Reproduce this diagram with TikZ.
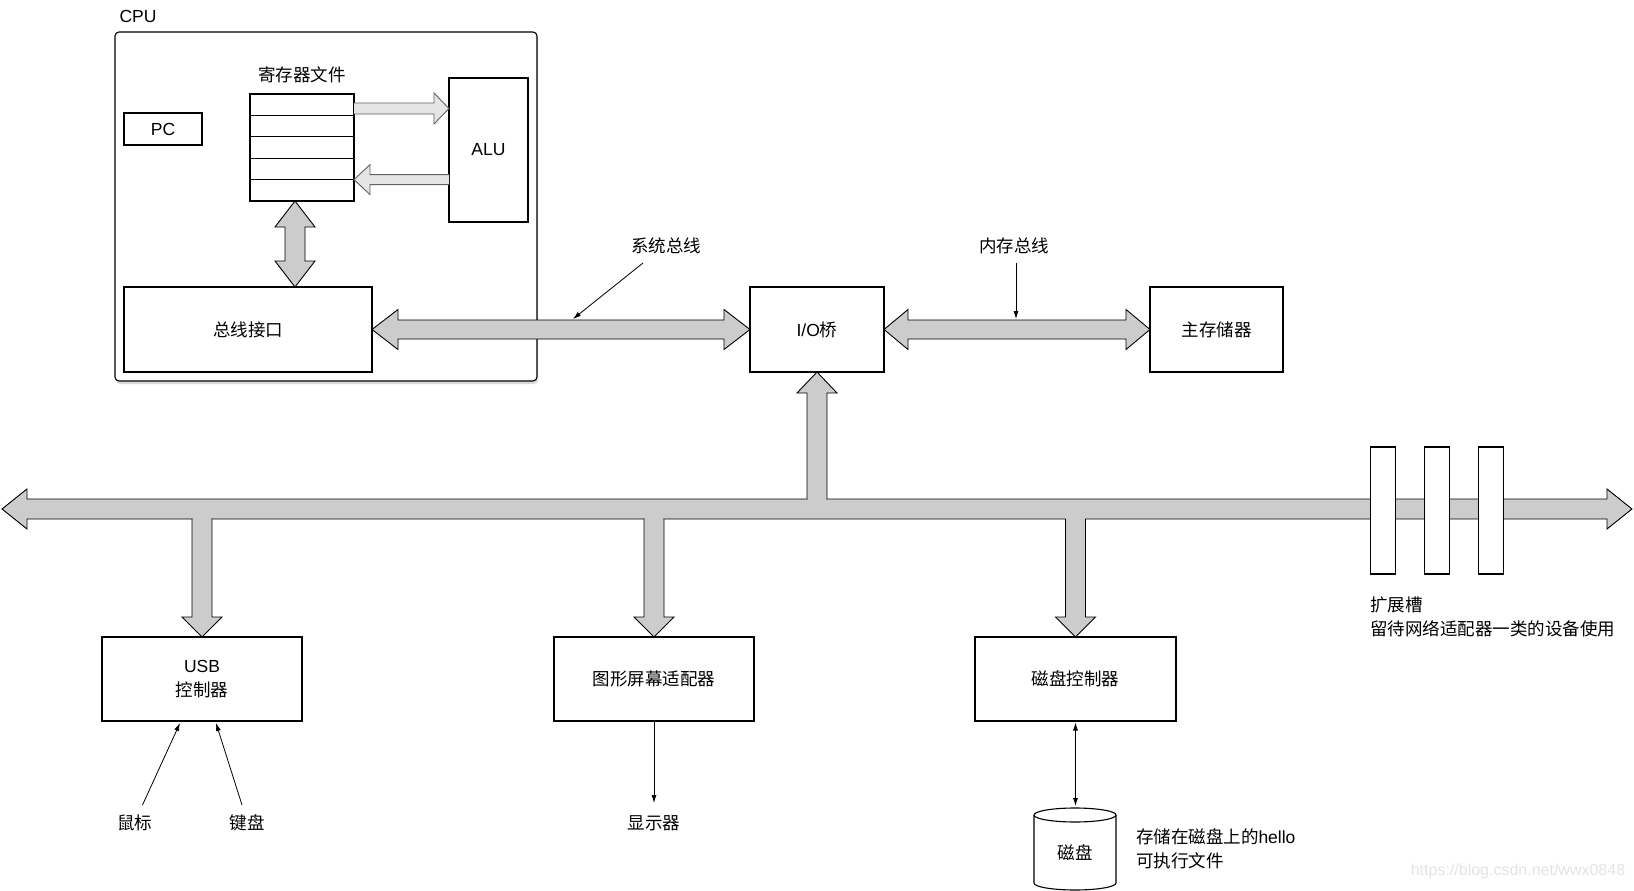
\documentclass[tikz,border=0pt]{standalone}
\usepackage{fontspec}
\setmainfont{Liberation Sans}
\newfontfamily\cjkf{Noto Sans CJK SC}
\newcommand\zh[1]{{\cjkf #1}}
\usetikzlibrary{calc,arrows.meta,shadows}

% horizontal double fat arrow, #2 left tip, #3 right tip, #4 shaft half, #5 head half, #6 head length
\newcommand\hdarrow[6][fat]{%
\filldraw[#1] let \p1=(#2), \p2=(#3) in (\x1,\y1) -- ({\x1+#6},{\y1+#5}) -- ({\x1+#6},{\y1+#4}) -- ({\x2-#6},{\y1+#4}) -- ({\x2-#6},{\y1+#5}) -- (\x2,\y1) -- ({\x2-#6},{\y1-#5}) -- ({\x2-#6},{\y1-#4}) -- ({\x1+#6},{\y1-#4}) -- ({\x1+#6},{\y1-#5}) -- cycle;}
% vertical double fat arrow, #2 top tip, #3 bottom tip
\newcommand\vdarrow[6][fat]{%
\filldraw[#1] let \p1=(#2), \p2=(#3) in (\x1,\y1) -- ({\x1+#5},{\y1-#6}) -- ({\x1+#4},{\y1-#6}) -- ({\x1+#4},{\y2+#6}) -- ({\x1+#5},{\y2+#6}) -- (\x1,\y2) -- ({\x1-#5},{\y2+#6}) -- ({\x1-#4},{\y2+#6}) -- ({\x1-#4},{\y1-#6}) -- ({\x1-#5},{\y1-#6}) -- cycle;}
% horizontal single fat arrow, open at base #2, tip #3
\newcommand\hsarrow[6][fat]{%
\filldraw[#1] let \p1=(#2), \p2=(#3), \n1={sign(\x2-\x1)} in (\x1,{\y1+#4}) -- ({\x2-(\n1)*#6},{\y1+#4}) -- ({\x2-(\n1)*#6},{\y1+#5}) -- (\x2,\y1) -- ({\x2-(\n1)*#6},{\y1-#5}) -- ({\x2-(\n1)*#6},{\y1-#4}) -- (\x1,{\y1-#4});}
% vertical single fat arrow, open at base #2, tip #3
\newcommand\vsarrow[6][fat]{%
\filldraw[#1] let \p1=(#2), \p2=(#3), \n1={sign(\y2-\y1)} in ({\x1-#4},\y1) -- ({\x1-#4},{\y2-(\n1)*#6}) -- ({\x1-#5},{\y2-(\n1)*#6}) -- (\x1,\y2) -- ({\x1+#5},{\y2-(\n1)*#6}) -- ({\x1+#4},{\y2-(\n1)*#6}) -- ({\x1+#4},\y1);}
% hide the bus edge where a branch joins
\newcommand\seam[2][gray!40]{\fill[#1] let \p1=(#2) in ({\x1-9.3pt},{\y1-1.4pt}) rectangle ({\x1+9.3pt},{\y1+1.4pt});}

\begin{document}
\begin{tikzpicture}[x=1pt,y=-1pt,
  every node/.style={font=\fontsize{17.5}{24}\selectfont, inner sep=0pt, outer sep=0pt},
  box/.style={draw, line width=1.1pt, fill=white},
  regrow/.style={box, minimum width=104pt, minimum height=21.4pt},
  slot/.style={box, minimum width=25pt, minimum height=127pt},
  fat/.style={draw=black, line width=0.9pt, fill=gray!40, line join=miter},
  lite/.style={draw=black!62, line width=0.9pt, fill=gray!20, line join=miter},
  leader/.style={line width=0.8pt, -{Latex[length=8pt,width=5pt]}},
  dleader/.style={line width=0.8pt, {Latex[length=8pt,width=5pt]}-{Latex[length=8pt,width=5pt]}}]
\useasboundingbox (0,0) rectangle (1634,891);

% CPU
\node[box, rounded corners=4pt, minimum width=422pt, minimum height=349pt,
  drop shadow={shadow xshift=1pt, shadow yshift=-3pt, opacity=0.3}] (cpu) at (326,206.5) {};
\node (cpulbl) at (138,16) {CPU};
\node[box, minimum width=78pt, minimum height=32pt] (pc) at (163,129) {PC};
\node (reglbl) at (302,75) {\zh{寄存器文件}};
\node[regrow] (r1) at (302,104.7) {};
\node[regrow, anchor=north] (r2) at (r1.south) {};
\node[regrow, anchor=north] (r3) at (r2.south) {};
\node[regrow, anchor=north] (r4) at (r3.south) {};
\node[regrow, anchor=north] (r5) at (r4.south) {};
\node[box, minimum width=79pt, minimum height=144pt] (alu) at (488.5,150) {ALU};
\node[box, minimum width=248pt, minimum height=85pt] (bi) at (248,329.5) {\zh{总线接口}};

% top row
\node[box, minimum width=134pt, minimum height=85pt] (io) at (817,329.5) {I/O\zh{桥}};
\node[box, minimum width=133pt, minimum height=85pt] (mm) at (1216.5,329.5) {\zh{主存储器}};
\node (sbl) at (666,246) {\zh{系统总线}};
\node (mbl) at (1014,246) {\zh{内存总线}};

% bottom row
\node[box, minimum width=200pt, minimum height=84pt, align=center] (usb) at (202,679) {USB\\\zh{控制器}};
\node[box, minimum width=200pt, minimum height=84pt] (gfx) at (654,679) {\zh{图形屏幕适配器}};
\node[box, minimum width=201pt, minimum height=84pt] (dc) at (1075.5,679) {\zh{磁盘控制器}};
\node (mouse) at (134.5,823) {\zh{鼠标}};
\node (kbd) at (247,823) {\zh{键盘}};
\node (disp) at (654,823) {\zh{显示器}};

% CPU internal arrows
\coordinate (ra) at ($(r1.east)+(0,3.8)$);
\hsarrow[lite]{ra}{ra -| alu.west}{5.5pt}{15.5pt}{15pt}
\coordinate (rb) at (alu.west |- r4.south east);
\hsarrow[lite]{rb}{r4.south east}{5pt}{15pt}{16pt}
\coordinate (rv) at ($(r5.south)+(-7,0)$);
\vdarrow{rv}{rv |- bi.north}{10pt}{20pt}{26pt}

% system bus and memory bus
\hdarrow{bi.east}{io.west}{9.5pt}{20pt}{26pt}
\hdarrow{io.east}{mm.west}{9.5pt}{20pt}{24pt}
\coordinate (sl1) at (643,263);
\coordinate (sl2) at (573,319);
\draw[leader] (sl1) -- (sl2);
\coordinate (ml1) at (1016,263);
\coordinate (ml2) at (1016,319);
\draw[leader] (ml1) -- (ml2);

% I/O bus
\coordinate (busL) at (2,509);
\coordinate (busR) at (1632,509);
\hdarrow{busL}{busR}{10pt}{20pt}{25pt}
\coordinate (jio) at ($(io.south |- busL)+(0,-10)$);
\vsarrow{jio}{io.south}{10pt}{20pt}{21pt}
\seam{jio}
\coordinate (jusb) at ($(usb.north |- busL)+(0,10)$);
\vsarrow{jusb}{usb.north}{10pt}{20pt}{20pt}
\seam{jusb}
\coordinate (jgfx) at ($(gfx.north |- busL)+(0,10)$);
\vsarrow{jgfx}{gfx.north}{10pt}{20pt}{20pt}
\seam{jgfx}
\coordinate (jdc) at ($(dc.north |- busL)+(0,10)$);
\vsarrow{jdc}{dc.north}{10pt}{20pt}{20pt}
\seam{jdc}

% expansion slots
\node[slot] (s1) at (1383,510.5) {};
\node[slot] (s2) at (1437,510.5) {};
\node[slot] (s3) at (1491,510.5) {};
\node[anchor=west, align=left] (slotlbl) at (1370,616.5) {\zh{扩展槽}\\\zh{留待网络适配器一类的设备使用}};

% devices
\coordinate (mo1) at (142.5,805);
\coordinate (mo2) at (180,723);
\draw[leader] (mo1) -- (mo2);
\coordinate (kb1) at (242,805);
\coordinate (kb2) at (216,723);
\draw[leader] (kb1) -- (kb2);
\coordinate (dp) at (654,803);
\draw[leader] (gfx.south) -- (dp);

% disk
\filldraw[fill=white, line width=1.1pt] (1034,815) -- (1034,883) arc[start angle=180, end angle=360, x radius=41pt, y radius=7pt] -- (1116,815) arc[start angle=0, end angle=180, x radius=41pt, y radius=7pt];
\draw[line width=1.1pt] (1116,815) arc[start angle=0, end angle=-180, x radius=41pt, y radius=7pt];
\node (disk) at (1075,853) {\zh{磁盘}};
\coordinate (dtop) at (1075.5,806);
\draw[dleader] ($(dc.south)+(0,1.5)$) -- (dtop);
\node[anchor=west, align=left] (hello) at (1136,848.5) {\zh{存储在磁盘上的}hello\\\zh{可执行文件}};

\node[font=\fontsize{16}{18}\selectfont, text=gray!22] (wm) at (1518,871) {https://blog.csdn.net/wwx0848};
\end{tikzpicture}
\end{document}
